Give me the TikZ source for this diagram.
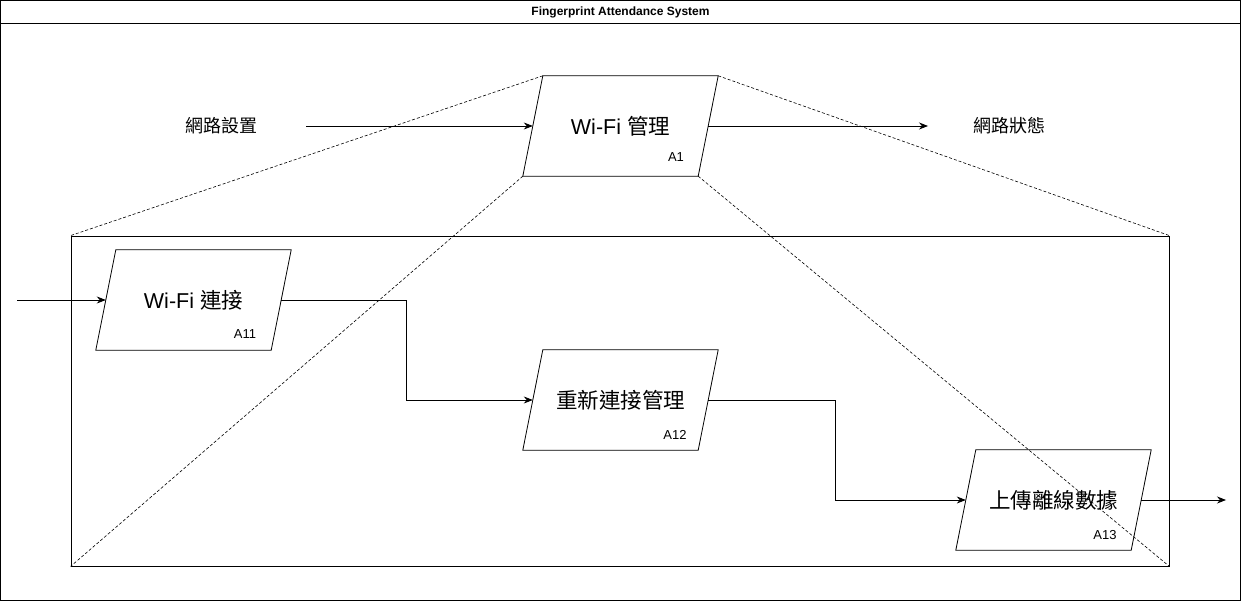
\documentclass[tikz,border=0pt]{standalone}
\usepackage{fontspec}
\setmainfont{Liberation Sans}
\newfontfamily\cjk{Noto Sans CJK TC}
\usetikzlibrary{arrows.meta,positioning}

\tikzset{
  func/.style={minimum width=175pt, minimum height=100pt, inner sep=0pt,
    font=\fontsize{21.5}{24}\selectfont},
  tag/.style={font=\fontsize{13}{15}\selectfont, inner sep=0pt},
  side/.style={font=\fontsize{18}{20}\selectfont\cjk, inner sep=0pt},
  flow/.style={thick, -{Stealth[length=9pt,width=7pt]}},
  zoomline/.style={densely dashed, line width=0.6pt},
}
% slanted outline round a function node
\newcommand{\slantbox}[1]{%
  \draw[thick] ([xshift=10pt]#1.north west) -- ([xshift=10pt]#1.north east)
    -- ([xshift=-10pt]#1.south east) -- ([xshift=-10pt]#1.south west) -- cycle;}

\begin{document}
\begin{tikzpicture}[x=1pt, y=-1pt]
    \useasboundingbox (0,0) rectangle (1241,601);
    % frame and title
    \node[draw, thick, minimum width=1240pt, minimum height=600pt, inner sep=0pt] (frame) at (620.5,300.5) {};
    \draw[thick] (0.5,23) -- (1240.5,23);
    \node[font=\bfseries\fontsize{12}{14}\selectfont] (title) at (620.5,12) {Fingerprint Attendance System};

    % parent function
    \node[func] (a1) at (620.5,126) {Wi-Fi {\cjk 管理}};
    \slantbox{a1}
    \node[tag] (a1tag) at (676,157) {A1};
    \node[side] (set) at (221,126) {網路設置};
    \node[side] (state) at (1009,126) {網路狀態};
    \coordinate (in1) at (306,126);
    \coordinate (out1) at (928,126);

    % decomposition
    \node[draw, thick, minimum width=1098pt, minimum height=330pt, inner sep=0pt] (inner) at (620,401) {};
    \node[func] (a11) at (193.5,300) {Wi-Fi {\cjk 連接}};
    \slantbox{a11}
    \node[tag] (a11tag) at (245,334) {A11};
    \node[func] (a12) at (620.5,400) {\cjk 重新連接管理};
    \slantbox{a12}
    \node[tag] (a12tag) at (675,435) {A12};
    \node[func] (a13) at (1053.5,500) {\cjk 上傳離線數據};
    \slantbox{a13}
    \node[tag] (a13tag) at (1105,535) {A13};
    \coordinate (in11) at (17,300);
    \coordinate (out13) at (1226,500);

    \draw[flow] (in1) -- (a1.west);
    \draw[flow] (a1.east) -- (out1);
    \draw[flow] (in11) -- (a11.west);
    \draw[flow] (a11.east) -- ++(125,0) |- (a12.west);
    \draw[flow] (a12.east) -- ++(127,0) |- (a13.west);
    \draw[flow] (a13.east) -- (out13);

    % zoom lines
    \draw[zoomline] ([xshift=10pt]a1.north west) -- (inner.north west);
    \draw[zoomline] ([xshift=10pt]a1.north east) -- (inner.north east);
    \draw[zoomline] ([xshift=-10pt]a1.south west) -- (inner.south west);
    \draw[zoomline] ([xshift=-10pt]a1.south east) -- (inner.south east);
\end{tikzpicture}
\end{document}
